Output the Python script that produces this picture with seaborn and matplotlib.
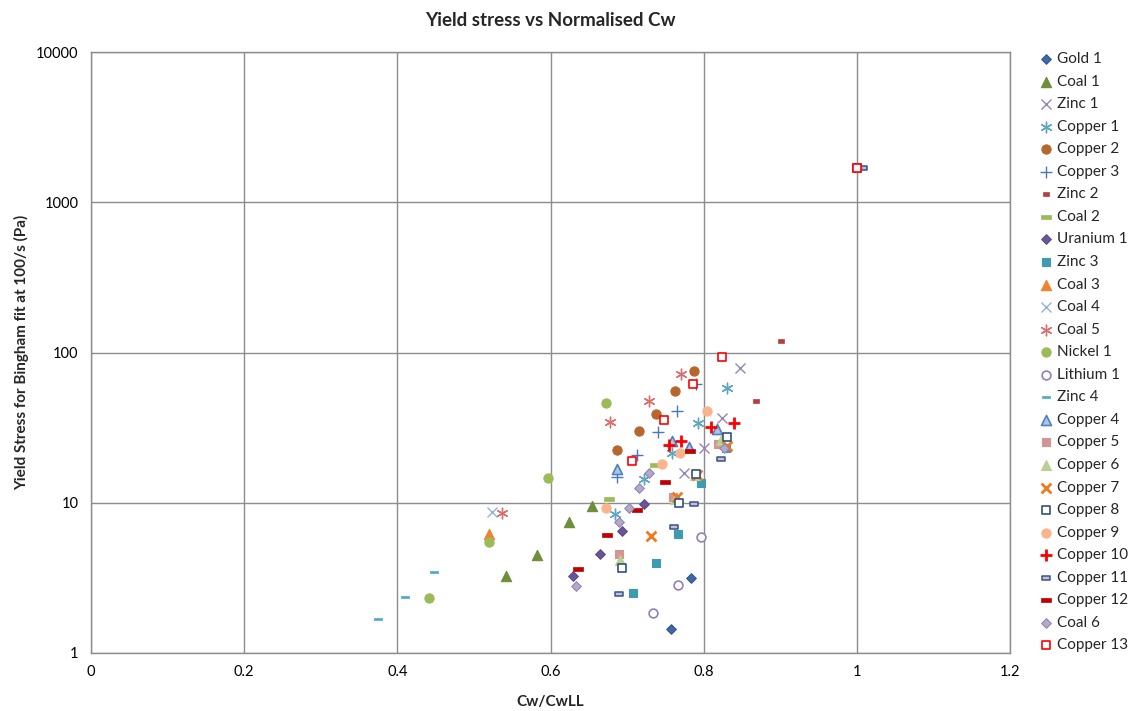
import matplotlib
matplotlib.use("Agg")
import matplotlib.pyplot as plt
from matplotlib.path import Path
from matplotlib.ticker import FixedLocator, FixedFormatter, NullLocator
import pandas as pd
import seaborn as sns

# ---- measurements: Cw/CwLL (x) and Bingham yield stress in Pa (y) ----
gold_1_x = [0.757, 0.784]
gold_1_y = [1.44, 3.14]

coal_1_x = [0.542, 0.582, 0.624, 0.654]
coal_1_y = [3.25, 4.49, 7.41, 9.56]

zinc_1_x = [0.774, 0.800, 0.824, 0.848]
zinc_1_y = [15.8, 23.0, 36.5, 78.5]

copper_1_x = [0.684, 0.722, 0.758, 0.792, 0.831]
copper_1_y = [8.4, 14.3, 21.3, 33.8, 57.8]

copper_2_x = [0.687, 0.715, 0.738, 0.763, 0.787]
copper_2_y = [22.3, 30.2, 39.0, 55.7, 75.7]

copper_3_x = [0.687, 0.713, 0.740, 0.765, 0.790]
copper_3_y = [14.9, 20.9, 29.6, 40.5, 62.0]

zinc_2_x = [0.868, 0.901]
zinc_2_y = [47.5, 119.0]

coal_2_x = [0.676, 0.736]
coal_2_y = [10.6, 17.8]

uranium_1_x = [0.629, 0.664, 0.694, 0.722]
uranium_1_y = [3.24, 4.54, 6.52, 9.86]

zinc_3_x = [0.708, 0.738, 0.767, 0.797, 0.829]
zinc_3_y = [2.50, 3.97, 6.22, 13.5, 23.0]

coal_3_x = [0.520]
coal_3_y = [6.2]

coal_4_x = [0.523]
coal_4_y = [8.64]

coal_5_x = [0.537, 0.678, 0.729, 0.771]
coal_5_y = [8.5, 34.3, 47.8, 71.9]

nickel_1_x = [0.441, 0.520, 0.597, 0.673]
nickel_1_y = [2.31, 5.45, 14.7, 45.9]

lithium_1_x = [0.734, 0.767, 0.796]
lithium_1_y = [1.85, 2.82, 5.94]

zinc_4_x = [0.375, 0.410, 0.448]
zinc_4_y = [1.68, 2.35, 3.48]

copper_4_x = [0.687, 0.758, 0.781, 0.818]
copper_4_y = [16.9, 25.8, 23.6, 30.8]

copper_5_x = [0.690, 0.760, 0.790, 0.819]
copper_5_y = [4.54, 10.9, 15.5, 24.5]

copper_6_x = [0.691, 0.762, 0.789, 0.822]
copper_6_y = [4.16, 10.6, 15.2, 26.2]

copper_7_x = [0.731, 0.765, 0.791, 0.830]
copper_7_y = [6.01, 11.0, 15.4, 23.9]

copper_8_x = [0.694, 0.768, 0.790, 0.830, 1.000]
copper_8_y = [3.70, 9.92, 15.5, 27.5, 1700.0]

copper_9_x = [0.673, 0.745, 0.769, 0.805]
copper_9_y = [9.19, 18.0, 21.3, 41.0]

copper_10_x = [0.755, 0.771, 0.810, 0.840]
copper_10_y = [24.2, 25.8, 32.0, 33.8]

copper_11_x = [0.690, 0.761, 0.787, 0.822, 1.008]
copper_11_y = [2.48, 6.93, 9.8, 19.5, 1690.0]

copper_12_x = [0.636, 0.674, 0.713, 0.749, 0.782]
copper_12_y = [3.64, 6.07, 8.9, 13.7, 22.2]

coal_6_x = [0.633, 0.689, 0.703, 0.716, 0.729, 0.827, 1.000]
coal_6_y = [2.81, 7.45, 9.27, 12.6, 15.7, 23.0, 1700.0]

copper_13_x = [0.706, 0.748, 0.786, 0.824, 1.000]
copper_13_y = [19.05, 35.5, 61.4, 93.7, 1700.0]

series_names = ["Gold 1", "Coal 1", "Zinc 1", "Copper 1", "Copper 2", "Copper 3",
                "Zinc 2", "Coal 2", "Uranium 1", "Zinc 3", "Coal 3", "Coal 4",
                "Coal 5", "Nickel 1", "Lithium 1", "Zinc 4", "Copper 4", "Copper 5",
                "Copper 6", "Copper 7", "Copper 8", "Copper 9", "Copper 10",
                "Copper 11", "Copper 12", "Coal 6", "Copper 13"]
series_x = [gold_1_x, coal_1_x, zinc_1_x, copper_1_x, copper_2_x, copper_3_x,
            zinc_2_x, coal_2_x, uranium_1_x, zinc_3_x, coal_3_x, coal_4_x,
            coal_5_x, nickel_1_x, lithium_1_x, zinc_4_x, copper_4_x, copper_5_x,
            copper_6_x, copper_7_x, copper_8_x, copper_9_x, copper_10_x,
            copper_11_x, copper_12_x, coal_6_x, copper_13_x]
series_y = [gold_1_y, coal_1_y, zinc_1_y, copper_1_y, copper_2_y, copper_3_y,
            zinc_2_y, coal_2_y, uranium_1_y, zinc_3_y, coal_3_y, coal_4_y,
            coal_5_y, nickel_1_y, lithium_1_y, zinc_4_y, copper_4_y, copper_5_y,
            copper_6_y, copper_7_y, copper_8_y, copper_9_y, copper_10_y,
            copper_11_y, copper_12_y, coal_6_y, copper_13_y]

y_ticks = [1, 10, 100, 1000, 10000]
y_tick_labels = ["1", "10", "100", "1000", "10000"]
x_ticks = [0, 0.2, 0.4, 0.6, 0.8, 1.0, 1.2]
x_tick_labels = ["0", "0.2", "0.4", "0.6", "0.8", "1", "1.2"]

frames = [pd.DataFrame({"series": n, "cw": xs, "stress": ys})
          for n, xs, ys in zip(series_names, series_x, series_y)]
data = pd.concat(frames, ignore_index=True)


# ---- marker shapes ----
def bar_marker(half_height):
    return Path([(-1, -half_height), (1, -half_height), (1, half_height),
                 (-1, half_height), (-1, -half_height)],
                [Path.MOVETO, Path.LINETO, Path.LINETO, Path.LINETO, Path.CLOSEPOLY])


dash_thin = bar_marker(0.34)
dash_small = bar_marker(0.55)
dash_box = bar_marker(0.45)
asterisk = (6, 2, 0)

# name: (marker, size, face, edge, linewidth)
styles = {
    "Gold 1":    ("D", 24, "#3E68A3", "#35598C", 0.8),
    "Coal 1":    ("^", 55, "#6E8E3A", "#6E8E3A", 0.8),
    "Zinc 1":    ("x", 52, "#9686B3", None, 1.0),
    "Copper 1":  (asterisk, 58, "#5DA6BD", None, 1.0),
    "Copper 2":  ("o", 44, "#B5672E", "#B5672E", 0.8),
    "Copper 3":  ("+", 66, "#4A78BA", None, 1.0),
    "Zinc 2":    (dash_small, 20, "#B3423F", "#B3423F", 0.5),
    "Coal 2":    (dash_thin, 46, "#9BBB59", "#9BBB59", 0.5),
    "Uranium 1": ("D", 24, "#6A5596", "#5E4A88", 0.8),
    "Zinc 3":    ("s", 36, "#3E9BB2", "#3E9BB2", 0.8),
    "Coal 3":    ("^", 55, "#F0822F", "#F0822F", 0.8),
    "Coal 4":    ("x", 52, "#95B3D7", None, 1.0),
    "Coal 5":    (asterisk, 58, "#D8706E", None, 1.0),
    "Nickel 1":  ("o", 44, "#9BBB59", "#9BBB59", 0.8),
    "Lithium 1": ("o", 40, "white", "#9380B5", 1.2),
    "Zinc 4":    (dash_thin, 40, "#4BACC6", "#4BACC6", 0.5),
    "Copper 4":  ("^", 52, "#A9C6E8", "#4F81BD", 1.2),
    "Copper 5":  ("s", 36, "#D39594", "#D39594", 0.8),
    "Copper 6":  ("^", 52, "#B9D293", "#B9D293", 0.8),
    "Copper 7":  ("x", 50, "#EE7A1C", None, 2.0),
    "Copper 8":  ("s", 32, "white", "#2E5283", 1.2),
    "Copper 9":  ("o", 44, "#F9B48C", "#F9B48C", 0.8),
    "Copper 10": ("+", 64, "#FF0000", None, 2.0),
    "Copper 11": (dash_box, 38, "#D8B9C6", "#2F5597", 1.1),
    "Copper 12": (dash_thin, 46, "#C00000", "#C00000", 0.5),
    "Coal 6":    ("D", 24, "#B5A9CB", "#9485B2", 0.8),
    "Copper 13": ("s", 32, "white", "#FF0000", 1.2),
}

# ---- figure ----
sns.set_theme(style="white")
plt.rcParams["font.family"] = ["Lato", "DejaVu Sans"]

fig = plt.figure(figsize=(11.35, 7.11), dpi=100)
ax = fig.add_axes([91 / 1135, 1 - 653 / 711, (1010 - 91) / 1135, (653 - 52) / 711])

for name in series_names:
    marker, size, face, edge, lw = styles[name]
    sub = data[data["series"] == name]
    kws = dict(data=sub, x="cw", y="stress", marker=marker, s=size,
               linewidth=lw, label=name, ax=ax, zorder=3, clip_on=False)
    if edge is None:
        sns.scatterplot(color=face, **kws)
    else:
        sns.scatterplot(color=face, facecolor=face, edgecolor=edge, **kws)

ax.set_yscale("log")
ax.set_xlim(0, 1.2)
ax.set_ylim(1, 10000)
ax.xaxis.set_major_locator(FixedLocator(x_ticks))
ax.xaxis.set_major_formatter(FixedFormatter(x_tick_labels))
ax.yaxis.set_major_locator(FixedLocator(y_ticks))
ax.yaxis.set_major_formatter(FixedFormatter(y_tick_labels))
ax.yaxis.set_minor_locator(NullLocator())

grid_color = "#8C8C8C"
ax.grid(True, which="major", color=grid_color, linewidth=1.0, zorder=0)
ax.set_axisbelow(True)
for side in ["left", "right", "top", "bottom"]:
    ax.spines[side].set_color(grid_color)
    ax.spines[side].set_linewidth(1.0)
ax.tick_params(axis="both", which="major", labelsize=10.5, labelcolor="#000000",
               length=0, pad=9)

ax.set_xlabel("Cw/CwLL", fontsize=11, fontweight="bold", labelpad=11)
ax.set_ylabel("Yield Stress for Bingham fit at 100/s (Pa)", fontsize=11,
              fontweight="bold", labelpad=5)
fig.text(550 / 1135, 1 - 20 / 711, "Yield stress vs Normalised Cw", ha="center",
         va="center", fontsize=13.5, fontweight="bold")

ax.legend(loc="upper left", bbox_to_anchor=(1039 / 1135, 1 - 52 / 711),
          bbox_transform=fig.transFigure, frameon=False, fontsize=11,
          handlelength=0.9, handletextpad=0.3, labelspacing=0.56,
          borderpad=0, borderaxespad=0, scatterpoints=1)

fig.savefig("out.png", dpi=100, facecolor="white")
